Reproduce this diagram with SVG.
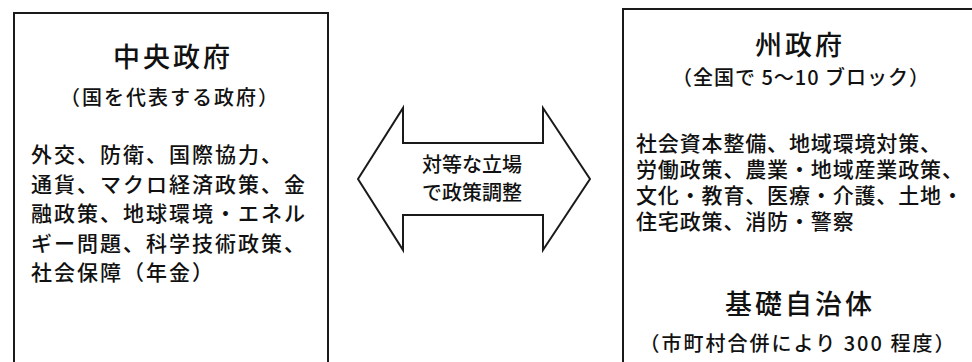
<svg xmlns="http://www.w3.org/2000/svg" width="972" height="362" viewBox="0 0 972 362">
<style>
.box{fill:#fff;stroke:#1a1a1a;stroke-width:2}
.t{font-family:"Noto Sans CJK JP","Noto Sans CJK SC",sans-serif;fill:#111;font-weight:500}
.title{font-size:27px;letter-spacing:3px;text-anchor:middle}
.sub{font-size:20px;letter-spacing:2px;text-anchor:middle}
.body{font-size:21px;letter-spacing:2px}
.body2{font-size:21px;letter-spacing:0.85px}
.arr{font-size:20px;text-anchor:middle}
</style>
<rect width="972" height="362" fill="#fff"/>
<g id="central">
<rect class="box" x="14" y="13" width="314" height="360"/>
<text class="t title" x="173" y="67">中央政府</text>
<text class="t sub" x="170" y="105">（国を代表する政府）</text>
<text class="t body" x="31" y="162">外交、防衛、国際協力、</text>
<text class="t body" x="31" y="191.5">通貨、マクロ経済政策、金</text>
<text class="t body" x="31" y="221">融政策、地球環境・エネル</text>
<text class="t body" x="31" y="250.5">ギー問題、科学技術政策、</text>
<text class="t body" x="31" y="280">社会保障（年金）</text>
</g>
<g id="connectors">
<polygon points="358,179 403,108 403,143 543,143 543,108 590,179 543,250 543,215 403,215 403,250" fill="#fff" stroke="#1a1a1a" stroke-width="2" stroke-linejoin="miter"/>
<text class="t arr" x="472" y="172">対等な立場</text>
<text class="t arr" x="472" y="200">で政策調整</text>
</g>
<g id="state">
<rect class="box" x="623" y="9" width="360" height="370"/>
<text class="t title" x="800" y="55">州政府</text>
<text class="t sub" x="801" y="85" style="letter-spacing:1px">（全国で 5～10 ブロック）</text>
<text class="t body2" x="636" y="151">社会資本整備、地域環境対策、</text>
<text class="t body2" x="636" y="177">労働政策、農業・地域産業政策、</text>
<text class="t body2" x="636" y="203">文化・教育、医療・介護、土地・</text>
<text class="t body2" x="636" y="229">住宅政策、消防・警察</text>
</g>
<g id="municipal">
<text class="t title" x="800" y="314">基礎自治体</text>
<text class="t sub" x="798" y="351">（市町村合併により 300 程度）</text>
</g>
</svg>
